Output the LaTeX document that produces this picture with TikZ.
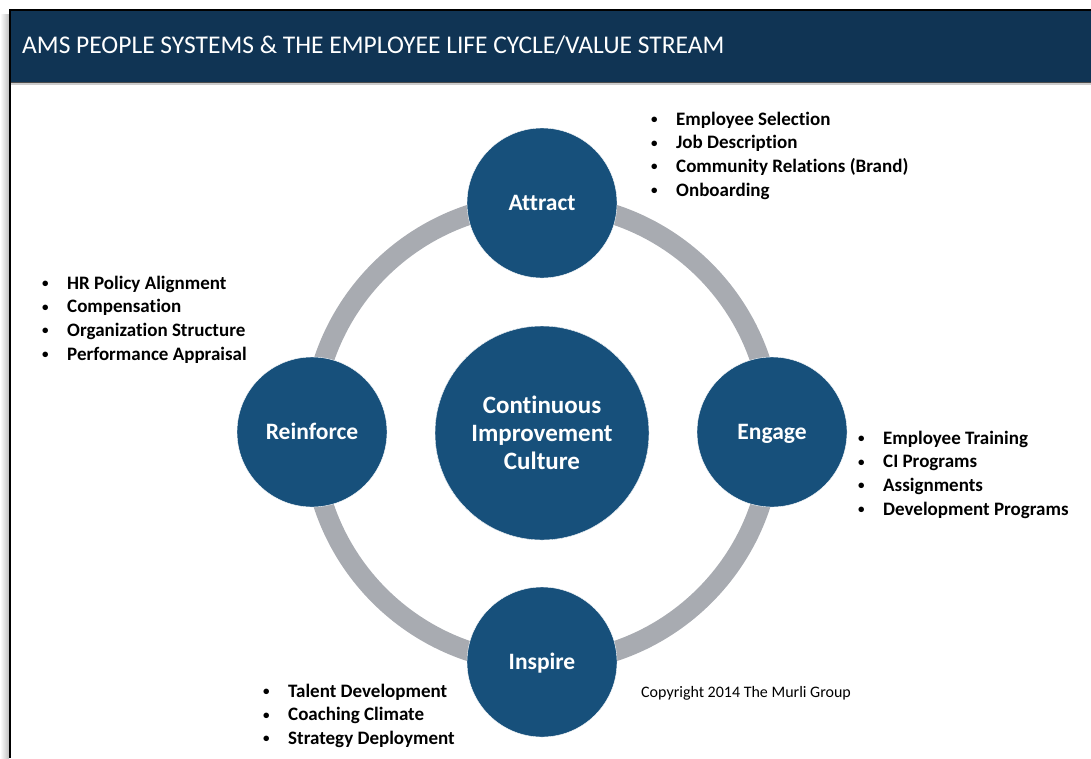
\documentclass[tikz,border=0pt]{standalone}
\usepackage{fontspec}
\setmainfont[Ligatures=NoCommon]{Carlito}
\definecolor{ringcolor}{RGB}{168,171,177}
\definecolor{circlecolor}{RGB}{23,80,123}
\definecolor{barcolor}{RGB}{16,52,84}
\usetikzlibrary{positioning}

\begin{document}
\begin{tikzpicture}
  [x=1pt,y=-1pt,line cap=round,
   % Styles
   stage/.style={circle,fill=circlecolor,draw=white,thin,minimum size=150pt,
     inner sep=0pt,text=white,text height=15pt,text depth=0pt,
     font=\fontsize{23.5}{28}\selectfont\bfseries},
   hub/.style={circle,fill=circlecolor,draw=white,thin,minimum size=214pt,
     inner sep=0pt,text=white,align=center,
     font=\fontsize{25}{28}\selectfont\bfseries},
   ring/.style={draw=ringcolor,line width=20pt},
   listitem/.style={anchor=base west,inner sep=0pt,
     font=\fontsize{19}{22}\selectfont\bfseries},
   title text/.style={anchor=west,text=white,inner sep=0pt,
     font=\fontsize{25.5}{28}\selectfont}]

  % Local definitions
  \def\itemgap{23.7}
  \newcommand\bulletbox[1]{\makebox[25pt][l]{\raisebox{1.5pt}{\fontsize{13}{13}\selectfont\textbullet}}#1}

  % Frame and title bar
  \useasboundingbox (0,0) rectangle (1091,758);
  \fill[left color=white,right color=black!25] (0,14) rectangle (9,758);
  \fill[barcolor] (10,10) rectangle (1091,82);
  \draw[black!70,line width=1pt] (10,82.5) -- (1091,82.5);
  \draw[black!20,line width=1.5pt] (10,84) -- (1091,84);
  \draw[black,line width=2pt,line cap=butt] (10,758) -- (10,10) -- (1091,10);
  \node[title text] (title) at (22,45)
    {AMS PEOPLE SYSTEMS \& THE EMPLOYEE LIFE CYCLE/VALUE STREAM};

  % The graphic
  \node[hub] (culture) at (542,433) {Continuous\\Improvement\\Culture};
  \draw[ring] (culture.center) circle [radius=230];
  \node[hub] at (culture) {Continuous\\Improvement\\Culture};

  \node[stage] (attract)   at (542,203) {Attract};
  \node[stage] (engage)    at (772,432) {Engage};
  \node[stage] (inspire)   at (542,662) {Inspire};
  \node[stage] (reinforce) at (312,432) {Reinforce};

  % Lists
  \foreach \t [count=\i] in {Employee Selection, Job Description,
      Community Relations (Brand), Onboarding}
    \node[listitem] (attract-\i) at (651,125+\itemgap*\i-\itemgap) {\bulletbox{\t}};

  \foreach \t [count=\i] in {HR Policy Alignment, Compensation,
      Organization Structure, Performance Appraisal}
    \node[listitem] (reinforce-\i) at (42,289+\itemgap*\i-\itemgap) {\bulletbox{\t}};

  \foreach \t [count=\i] in {Employee Training, CI Programs,
      Assignments, Development Programs}
    \node[listitem] (engage-\i) at (858,444+\itemgap*\i-\itemgap) {\bulletbox{\t}};

  \foreach \t [count=\i] in {Talent Development, Coaching Climate,
      Strategy Deployment}
    \node[listitem] (inspire-\i) at (263,697+\itemgap*\i-\itemgap) {\bulletbox{\t}};

  \node[anchor=base west,inner sep=0pt,font=\fontsize{16}{18}\selectfont]
    (copyright) at (641,697) {Copyright 2014 The Murli Group};
\end{tikzpicture}
\end{document}
